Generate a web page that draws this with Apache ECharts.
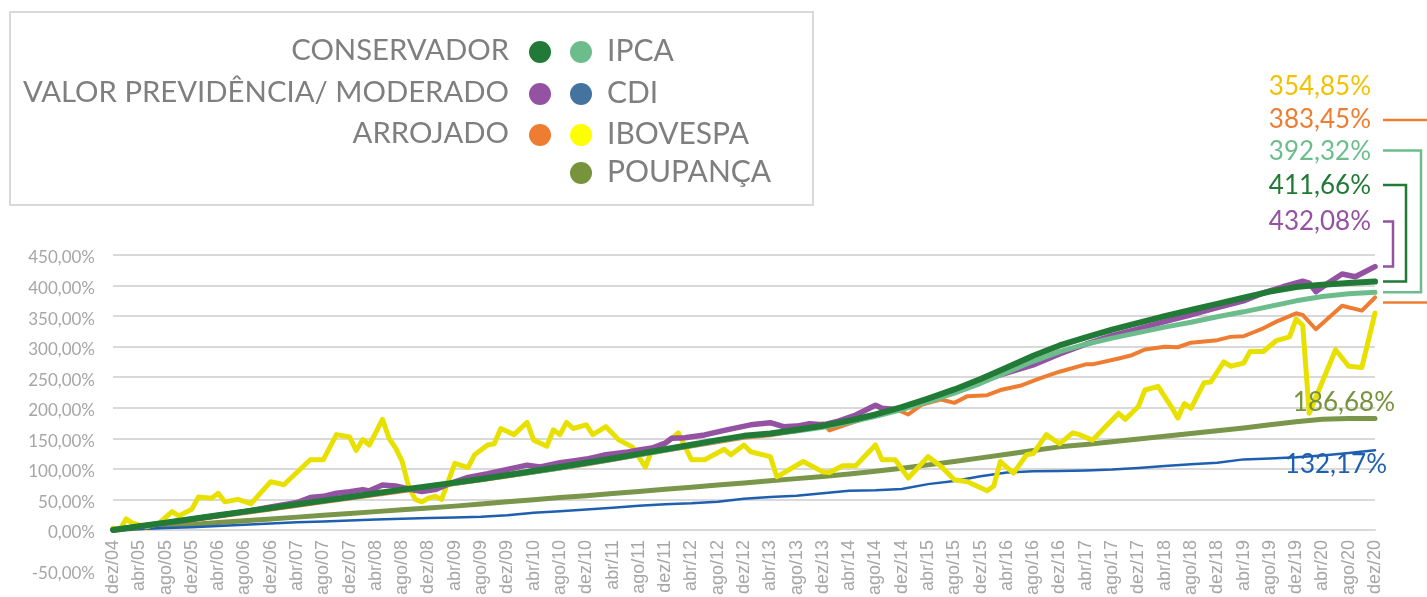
<!DOCTYPE html>
<html><head><meta charset="utf-8">
<script src="https://cdn.jsdelivr.net/npm/echarts@6/dist/echarts.min.js"></script>
<style>html,body{margin:0;padding:0;background:#fff}#c{width:1427px;height:597px}</style>
</head><body><div id="c"></div>
<script>
// ---- categories: monthly, dez/04 .. dez/20 ----
const monthNames = ['jan','fev','mar','abr','mai','jun','jul','ago','set','out','nov','dez'];
const categories = ['dez/04'];
for (let y = 5; y <= 20; y++) for (const mn of monthNames) categories.push(mn + '/' + String(y).padStart(2, '0'));

// ---- smooth series, read every 4 months (dez/04, abr/05, ago/05, ...) ----
const conservador = [0,6,12,18,24,30,36,42,48,54,60,66,71.5,77.5,83.5,90,96.5,103,110,117,124.5,132,139.5,147,154,158,164,170.5,179,189,201,215,230,247,266,285,302,315,328,339,350,360,370,380,390,397.5,401.5,404,406.5];
const ipca = [0,6,12,18,24,29.5,35.5,41.5,47.5,53.5,59.5,65.5,71,76.5,82.5,89,95,101.5,108.5,115.5,123,130.5,138,145.5,153,157,162,168,176,186,197,210,224,240,258,276,292,304,314,323,332,340,349,357,366,375,382,386.5,389];
const poupanca = [0,3,6,9,12,15,18,21,24,27,30,33,36,39,42.5,46,49.5,53,56,59.5,63,66.5,70,73.5,77,80.5,84,87.5,91.5,96,101,106.5,112,118,124,130,136,140,144.5,149,153.5,158,162.5,167,172,177,181,182.5,182.5];
const cdi = [0,1.5,3,4.5,6.5,8.5,10.5,12.5,14,15.5,17,18.5,19.5,20.5,21.5,24,28,30.5,33.5,36.5,39.5,42,43.5,46,51,54,56,60,64,65,67,75,80,88,94,96,96.5,97.5,99,101.5,104.5,107.5,110,115.5,117,119,122,126,130.5];

// ---- wiggly series, read at their turning points: [month index, value %] ----
const moderado = [[0,0],[4,5.5],[8,11.5],[12,17.5],[16,23.5],[20,30],[24,37.5],[28,45],[30,53],[32,55],[34,60],[36,62.5],[38,66],[39,64],[41,73.5],[43,72],[45,67],[47,63],[49,66],[51,75],[54,86],[57,92],[60,99],[63,106],[65,103],[68,110],[70,113],[72,116],[75,123],[78,127],[80,131],[82,134],[84,142],[85,150],[87,151],[90,155.5],[93,163],[97,172],[100,175.5],[102,169],[104,170],[106,174],[108,172],[110,177],[113,188],[116,204],[117,199],[119,197],[121,203],[124,212],[128,228],[132,244],[136,257],[140,270],[144,288],[148,304],[152,318],[156,329],[160,341],[164,352],[168,364],[172,375],[175,388],[178,398],[181,407],[182,404],[183,390],[185,405],[187,419],[189,414.5],[192,431]];
const arrojado = [[0,0],[12,16],[24,33.5],[36,51.5],[48,69],[60,87.5],[72,107],[84,129.5],[96,151],[100,155],[104,162],[106,167],[108,174.5],[109,163],[112,174],[116,188],[118,195],[119,198],[121,189],[123,204.6],[126,213.6],[128,208],[130,219],[133,220.6],[135,229],[138,236],[141,248],[144,259],[148,271],[149,271],[153,280.6],[155,286],[157,295.4],[160,299.7],[162,299],[164,306.5],[168,310.6],[170,316],[172,317],[175,330],[177,341],[180,354.6],[181,352],[183,328.5],[187,367],[190,359],[192,380.5]];
const ibovespa = [[0,3],[1,0],[2,18],[3,11],[5,5],[7,11],[9,30],[10,23],[12,34],[13,54],[15,52],[16,60],[17,46],[19,50],[21,43],[24,79],[26,74],[30,115],[32,115],[34,156],[36,152],[37,130],[38,148],[39,139],[41,181],[42,150],[43,134],[44,112],[45,70],[46,50],[47,46],[48,52],[49,55],[50,50],[52,109],[54,102],[55,123],[57,139],[58,141],[59,166],[61,156],[63,176],[64,147],[66,137],[67,164],[68,156],[69,176],[70,166],[72,172],[73,156],[75,169],[77,147],[79,136],[81,103],[82,131],[83,134],[85,150],[86,159],[88,115],[90,115],[93,132],[94,123],[96,139],[97,128],[100,120],[101,87],[105,112],[108,95],[109,94],[111,105],[113,105],[116,139],[117,115],[119,115],[121,85],[124,120],[126,104],[128,82],[130,79],[133,64],[134,72],[135,112],[137,93],[139,123],[140,125],[142,156],[144,141],[146,159],[147,156],[149,147],[153,191],[154,181],[156,202],[157,229],[159,235],[161,202],[162,183],[163,207],[164,199],[166,241],[167,242],[169,275],[170,268],[172,273],[173,292],[175,292],[177,310],[179,316],[180,345],[181,335],[182,191],[186,295],[188,268],[190,266],[192,355]];

// ---- end labels & legend texts ----
const endLabels = {ibovespa:'354,85%', arrojado:'383,45%', ipca:'392,32%', conservador:'411,66%', moderado:'432,08%', poupanca:'186,68%', cdi:'132,17%'};
const legendLeft = ['CONSERVADOR','VALOR PREVIDÊNCIA/ MODERADO','ARROJADO'];
const legendRight = ['IPCA','CDI','IBOVESPA','POUPANÇA'];
const yMin = -50, yMax = 450, yStep = 50;

const C = {cons:'#217a35', ipca:'#6dbd8c', mod:'#9452a2', cdi:'#1f5fb0', arr:'#ee7d31', ibov:'#e8e100', poup:'#7a964a'};
const every4 = arr => arr.map((v, i) => [i * 4, v]);

const W = 1427, H = 597, GL = 113, GR = 52, GT = 255, GB = 36.5;
const plotH = H - GT - GB;
const zeroOffset = (0 - yMin) / (yMax - yMin) * plotH;

const chart = echarts.init(document.getElementById('c'), null, {renderer:'canvas'});
const line = (name, data, color, width, z) => ({
  name, type:'line', data, z, symbol:'none', showSymbol:false, smooth:false,
  lineStyle:{color, width, cap:'round', join:'round'}, animation:false
});

chart.setOption({
  animation:false,
  backgroundColor:'#fff',
  grid:{left:GL, right:GR, top:GT, bottom:GB, containLabel:false, outerBoundsMode:'none'},
  xAxis:{
    type:'category', data:categories, boundaryGap:false,
    offset:-zeroOffset,
    axisLine:{onZero:false, lineStyle:{color:'#d9d9d9', width:2}},
    axisTick:{show:false},
    axisLabel:{interval:3, rotate:90, margin:10, color:'#a6a6a6', fontSize:18, fontFamily:'Liberation Sans'},
    splitLine:{show:false}
  },
  yAxis:{
    type:'value', min:yMin, max:yMax, interval:yStep,
    axisLine:{show:false}, axisTick:{show:false},
    splitLine:{show:true, showMinLine:false, lineStyle:{color:'#d9d9d9', width:2}},
    axisLabel:{
      margin:18, color:'#a6a6a6', fontSize:17, fontFamily:'Lato',
      formatter:v => { const s = v.toFixed(2).replace('.', ',') + '%'; return v === yMin ? '{low|' + s + '}' : '{n|' + s + '}'; },
      rich:{
        n:{padding:[6,0,0,0], color:'#a6a6a6', fontSize:17, fontFamily:'Lato'},
        low:{padding:[26,0,0,0], color:'#a6a6a6', fontSize:17, fontFamily:'Lato'}
      }
    }
  },
  series:[
    line('POUPANÇA', every4(poupanca), C.poup, 5, 2),
    line('CDI', every4(cdi), C.cdi, 2.5, 3),
    line('IBOVESPA', ibovespa, C.ibov, 5, 4),
    line('ARROJADO', arrojado, C.arr, 4, 5),
    line('VALOR PREVIDÊNCIA/ MODERADO', moderado, C.mod, 5.5, 6),
    line('IPCA', every4(ipca), C.ipca, 5, 7),
    line('CONSERVADOR', every4(conservador), C.cons, 6, 8)
  ]
});

// ---- annotations (legend box, end labels, brackets) ----
const last = arr => arr[arr.length - 1];
const px = (seriesIndex, pt) => chart.convertToPixel({seriesIndex}, pt);
const pMod = px(4, last(moderado)), pCons = px(6, [192, last(conservador)]), pIpca = px(5, [192, last(ipca)]);
const pArr = px(3, last(arrojado)), pPoup = px(0, [192, last(poupanca)]), pCdi = px(1, [192, last(cdi)]);
const font = 'Lato';
const g = [];
g.push({type:'rect', shape:{x:10, y:12, width:803, height:193}, style:{fill:'none', stroke:'#d9d9d9', lineWidth:2}, z:10});
const rowsY = [51, 93, 134, 172];
const leftColors = [C.cons, C.mod, C.arr];
const rightColors = ['#6dbd8c', '#44739f', '#ffff00', '#77933c'];
legendLeft.forEach((t, i) => {
  g.push({type:'text', x:509, y:rowsY[i], style:{text:t, fill:'#7f7f7f', font:'29.3px ' + font, align:'right', verticalAlign:'middle'}, z:10});
  g.push({type:'circle', shape:{cx:540, cy:rowsY[i] + 1, r:11}, style:{fill:leftColors[i]}, z:10});
});
legendRight.forEach((t, i) => {
  g.push({type:'circle', shape:{cx:581, cy:rowsY[i] + 1, r:11}, style:{fill:rightColors[i]}, z:10});
  g.push({type:'text', x:607, y:rowsY[i], style:{text:t, fill:'#7f7f7f', font:'30px ' + font, align:'left', verticalAlign:'middle'}, z:10});
});
const labelX = 1371;
const rightLabels = [
  [endLabels.ibovespa, 87, '#f2c200'],
  [endLabels.arrojado, 120, C.arr],
  [endLabels.ipca, 152, C.ipca],
  [endLabels.conservador, 186, C.cons],
  [endLabels.moderado, 222, C.mod]
];
rightLabels.forEach(([t, y, col]) => g.push({type:'text', x:labelX, y, style:{text:t, fill:col, font:'26px ' + font, align:'right', verticalAlign:'middle'}, z:10}));
const bx = pMod[0] + 8;
const bracket = (y1, y2, xr, col) => g.push({type:'polyline', shape:{points:[[bx, y1], [xr, y1], [xr, y2], [bx, y2]]}, style:{stroke:col, lineWidth:2.5, fill:'none'}, z:10});
bracket(221.5, pMod[1], bx + 10, C.mod);
bracket(185, pCons[1], bx + 23, C.cons);
bracket(150.5, pIpca[1], bx + 38, C.ipca);
g.push({type:'polyline', shape:{points:[[bx, 120], [W + 10, 120]]}, style:{stroke:C.arr, lineWidth:2.5}, z:10});
g.push({type:'polyline', shape:{points:[[bx, pArr[1] + 5], [W + 10, pArr[1] + 5]]}, style:{stroke:C.arr, lineWidth:2.5}, z:10});
g.push({type:'text', x:pPoup[0] + 20, y:pPoup[1] - 16, style:{text:endLabels.poupanca, fill:'#77933c', font:'26px ' + font, align:'right', verticalAlign:'middle'}, z:10});
g.push({type:'text', x:pCdi[0] + 12, y:pCdi[1] + 14, style:{text:endLabels.cdi, fill:'#1f5fb0', font:'26px ' + font, align:'right', verticalAlign:'middle'}, z:10});
chart.setOption({graphic:g});
</script></body></html>
